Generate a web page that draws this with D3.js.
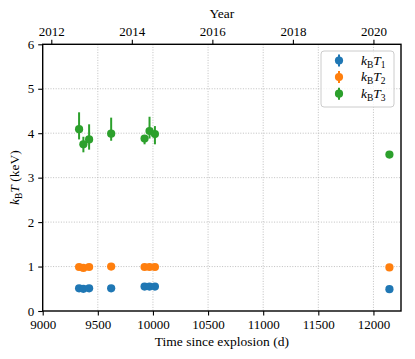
<!DOCTYPE html>
<html>
<head>
<meta charset="utf-8">
<script src="https://cdn.jsdelivr.net/npm/d3@7"></script>
<style>
  body { margin: 0; background: #fff; }
  text { font-family: "Liberation Serif", "DejaVu Serif", serif; fill: #000; }
</style>
</head>
<body>
<div id="chart"></div>
<script>
// days since explosion for each observation
const days = [9330, 9369, 9421, 9621, 9924, 9969, 10018, 12145];

// temperature components (keV)
const kT1 = [0.51, 0.50, 0.51, 0.51, 0.55, 0.55, 0.55, 0.49];
const kT1Up = [0.02, 0.02, 0.02, 0.02, 0.02, 0.02, 0.02, 0.02];
const kT1Lo = [0.02, 0.02, 0.02, 0.02, 0.02, 0.02, 0.02, 0.02];

const kT2 = [0.99, 0.97, 0.99, 1.00, 0.99, 0.99, 0.99, 0.98];
const kT2Up = [0.02, 0.02, 0.02, 0.02, 0.02, 0.02, 0.02, 0.02];
const kT2Lo = [0.02, 0.02, 0.02, 0.02, 0.02, 0.02, 0.02, 0.02];

const kT3 = [4.09, 3.75, 3.86, 3.99, 3.88, 4.05, 3.98, 3.52];
const kT3Up = [0.38, 0.17, 0.34, 0.36, 0.08, 0.32, 0.18, 0.05];
const kT3Lo = [0.23, 0.18, 0.23, 0.16, 0.13, 0.17, 0.23, 0.05];

const xTicks = [9000, 9500, 10000, 10500, 11000, 11500, 12000];
const yTicks = [0, 1, 2, 3, 4, 5, 6];
const yearTicks = [2012, 2014, 2016, 2018, 2020];

const explosionYear = 1987.146;

const width = 415;
const height = 359;
const margin = { top: 44.3, right: 14, bottom: 48, left: 42.7 };

const svg = d3
  .select("#chart")
  .append("svg")
  .attr("width", width)
  .attr("height", height);

var x = d3
  .scaleLinear()
  .domain([9000, 12250])
  .range([margin.left, width - margin.right]);
var y = d3
  .scaleLinear()
  .domain([0, 6])
  .range([height - margin.bottom, margin.top]);
var yearScale = d3
  .scaleLinear()
  .domain(x.domain().map((d) => explosionYear + d / 365.25))
  .range(x.range());

// grid
var grid = svg.append("g").attr("stroke", "#b0b0b0").attr("stroke-width", 0.8)
  .attr("stroke-dasharray", "1,1.6");
grid.selectAll(".gx").data(xTicks.slice(1)).enter().append("line")
  .attr("x1", (d) => x(d)).attr("x2", (d) => x(d))
  .attr("y1", y(6)).attr("y2", y(0));
grid.selectAll(".gy").data(yTicks.slice(1, -1)).enter().append("line")
  .attr("x1", x(9000)).attr("x2", x(12250))
  .attr("y1", (d) => y(d)).attr("y2", (d) => y(d));

// series
var series = [
  { name: "1", color: "#1f77b4", v: kT1, up: kT1Up, lo: kT1Lo },
  { name: "2", color: "#ff7f0e", v: kT2, up: kT2Up, lo: kT2Lo },
  { name: "3", color: "#2ca02c", v: kT3, up: kT3Up, lo: kT3Lo },
];

series.forEach(function (s) {
  var pts = days.map((d, i) => ({ d: d, v: s.v[i], up: s.up[i], lo: s.lo[i] }));
  var g = svg.append("g");
  g.selectAll("line").data(pts).enter().append("line")
    .attr("x1", (p) => x(p.d)).attr("x2", (p) => x(p.d))
    .attr("y1", (p) => y(p.v + p.up)).attr("y2", (p) => y(p.v - p.lo))
    .attr("stroke", s.color).attr("stroke-width", 2);
  g.selectAll("circle").data(pts).enter().append("circle")
    .attr("cx", (p) => x(p.d)).attr("cy", (p) => y(p.v))
    .attr("r", 4.1).attr("fill", s.color);
});

// axes
var axisStyle = function (g) {
  g.select(".domain").remove();
  g.selectAll(".tick line").attr("stroke", "#000").attr("stroke-width", 1.1);
  g.selectAll(".tick text").style("font-size", "13px");
};

svg.append("g")
  .attr("transform", "translate(0," + y(0) + ")")
  .call(d3.axisBottom(x).tickValues(xTicks).tickFormat(d3.format("d")).tickSizeOuter(0).tickSize(4.5).tickPadding(4))
  .call(axisStyle);

svg.append("g")
  .attr("transform", "translate(" + x(9000) + ",0)")
  .call(d3.axisLeft(y).tickValues(yTicks).tickFormat(d3.format("d")).tickSizeOuter(0).tickSize(4.5).tickPadding(4))
  .call(axisStyle);

svg.append("g")
  .attr("transform", "translate(0," + y(6) + ")")
  .call(d3.axisTop(yearScale).tickValues(yearTicks).tickFormat(d3.format("d")).tickSizeOuter(0).tickSize(4.5).tickPadding(4))
  .call(axisStyle);

// frame
svg.append("rect")
  .attr("x", x(9000)).attr("y", y(6))
  .attr("width", x(12250) - x(9000)).attr("height", y(0) - y(6))
  .attr("fill", "none").attr("stroke", "#000").attr("stroke-width", 1.4);

// axis titles
svg.append("text")
  .attr("x", (x(9000) + x(12250)) / 2).attr("y", 346)
  .attr("text-anchor", "middle").style("font-size", "13.5px")
  .text("Time since explosion (d)");

svg.append("text")
  .attr("x", (x(9000) + x(12250)) / 2).attr("y", 18)
  .attr("text-anchor", "middle").style("font-size", "13.5px")
  .text("Year");

var yt = svg.append("text")
  .attr("transform", "translate(19," + (y(0) + y(6)) / 2 + ") rotate(-90)")
  .attr("text-anchor", "middle").style("font-size", "13.5px");
yt.append("tspan").style("font-style", "italic").text("k");
yt.append("tspan").attr("dy", 3).style("font-size", "9.5px").text("B");
yt.append("tspan").attr("dy", -3).style("font-style", "italic").text("T");
yt.append("tspan").text(" (keV)");

// legend
var legend = svg.append("g");
legend.append("rect")
  .attr("x", 321).attr("y", 51).attr("width", 73).attr("height", 56)
  .attr("rx", 3).attr("fill", "#fff").attr("fill-opacity", 0.8)
  .attr("stroke", "#cccccc").attr("stroke-width", 1);

series.forEach(function (s, i) {
  var ly = 60.5 + i * 16.6;
  legend.append("line")
    .attr("x1", 339).attr("x2", 339).attr("y1", ly - 6).attr("y2", ly + 6)
    .attr("stroke", s.color).attr("stroke-width", 2);
  legend.append("circle").attr("cx", 339).attr("cy", ly).attr("r", 4.1).attr("fill", s.color);
  var t = legend.append("text").attr("x", 361).attr("y", ly + 4).style("font-size", "13.5px");
  t.append("tspan").style("font-style", "italic").text("k");
  t.append("tspan").attr("dy", 3).style("font-size", "9.5px").text("B");
  t.append("tspan").attr("dy", -3).style("font-style", "italic").text("T");
  t.append("tspan").attr("dy", 3).style("font-size", "9.5px").text(s.name);
});
</script>
</body>
</html>
